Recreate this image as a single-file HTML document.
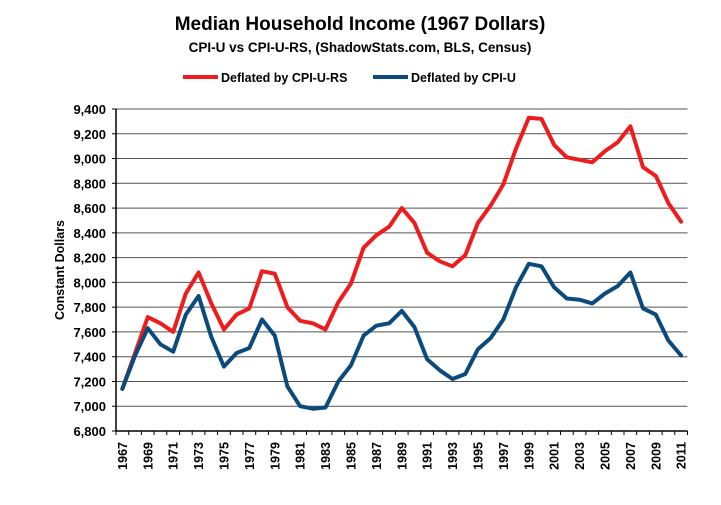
<!DOCTYPE html>
<html><head><meta charset="utf-8"><style>
body{margin:0;background:#fff;}
svg{display:block;font-family:"Liberation Sans",Arial,sans-serif;font-weight:bold;}
</style></head><body>
<svg id="s" width="721" height="505" xmlns="http://www.w3.org/2000/svg">
<text x="360" y="30" text-anchor="middle" font-size="19">Median Household Income (1967 Dollars)</text>
<text x="360" y="52" text-anchor="middle" font-size="13.5">CPI-U vs CPI-U-RS, (ShadowStats.com, BLS, Census)</text>
<line x1="183" y1="77" x2="218" y2="77" stroke="#ee1c1c" stroke-width="4"/>
<text x="221" y="82" font-size="12.5">Deflated by CPI-U-RS</text>
<line x1="373" y1="77" x2="408" y2="77" stroke="#0b4a7d" stroke-width="4"/>
<text x="411" y="82" font-size="12.5">Deflated by CPI-U</text>
<text transform="translate(64,270) rotate(-90)" text-anchor="middle" font-size="12.5">Constant Dollars</text>
<g id="g"></g>
</svg>
<script>
var g=document.getElementById('g'),h='';
var L=116,R=687.5,T=109,B=431,st=(B-T)/13,dx=(R-L)/45;
function Y(v){return T+(9400-v)/200*st;}
for(var i=0;i<=13;i++){var y=T+i*st,v=9400-i*200;
 if(i<13)h+='<line x1="'+L+'" y1="'+y+'" x2="'+R+'" y2="'+y+'" stroke="#555" stroke-width="1"/>';
 h+='<line x1="'+(L-4)+'" y1="'+y+'" x2="'+L+'" y2="'+y+'" stroke="#000"/>';
 h+='<text x="'+(L-10)+'" y="'+(y+5)+'" text-anchor="end" font-size="13">'+v.toLocaleString('en-US')+'</text>';}
h+='<line x1="'+L+'" y1="'+T+'" x2="'+L+'" y2="'+B+'" stroke="#000" stroke-width="1.5"/>';
h+='<line x1="'+L+'" y1="'+B+'" x2="'+R+'" y2="'+B+'" stroke="#000" stroke-width="1.5"/>';
for(var i=0;i<=45;i++){var x=L+i*dx;h+='<line x1="'+x+'" y1="'+B+'" x2="'+x+'" y2="'+(B+4)+'" stroke="#000"/>';}
for(var i=0;i<45;i+=2){var x=L+(i+0.5)*dx+4.5;h+='<text transform="translate('+x+',442) rotate(-90)" text-anchor="end" font-size="12.5">'+(1967+i)+'</text>';}
var r=[7140,7430,7720,7670,7600,7910,8080,7830,7620,7740,7790,8090,8070,7800,7690,7670,7620,7840,7990,8280,8380,8450,8600,8480,8240,8170,8130,8220,8480,8620,8790,9080,9330,9320,9110,9010,8990,8970,9060,9130,9260,8930,8860,8640,8490];
var b=[7140,7410,7630,7500,7440,7740,7890,7560,7320,7430,7470,7700,7570,7160,7000,6980,6990,7200,7330,7570,7650,7670,7770,7640,7380,7290,7220,7260,7460,7550,7700,7960,8150,8130,7960,7870,7860,7830,7910,7970,8080,7790,7740,7530,7410];
function P(a,c){var p=a.map(function(v,i){return (L+(i+0.5)*dx).toFixed(1)+','+Y(v).toFixed(1)}).join(' ');
 return '<polyline points="'+p+'" fill="none" stroke="'+c+'" stroke-width="4" stroke-linejoin="round" stroke-linecap="round"/>';}
h+=P(r,'#ee1c1c')+P(b,'#0b4a7d');
g.innerHTML=h;
</script>
</body></html>
